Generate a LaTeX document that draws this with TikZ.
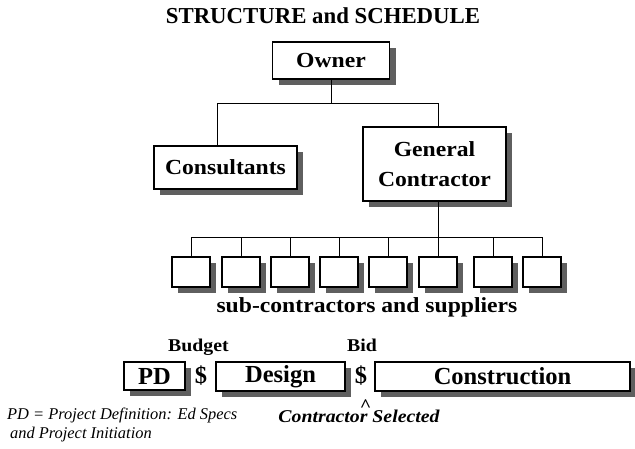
\documentclass[tikz,border=0pt]{standalone}
\usepackage{fontspec}
\setmainfont{Liberation Serif}
\newfontfamily\bfw{Liberation Serif}[FakeStretch=1.1]
\usetikzlibrary{shadows}
\definecolor{shd}{RGB}{95,95,95}
\tikzset{
  box/.style={draw=black, line width=1.1pt, fill=white, inner sep=0pt, align=center,
    drop shadow={shadow xshift=6pt, shadow yshift=-6pt, fill=shd, opacity=1}},
  lbl/.style={font=\bfw\bfseries\fontsize{21.5}{30}\selectfont},
  blbl/.style={font=\bfseries\fontsize{24.5}{28}\selectfont},
  conn/.style={line width=0.8pt},
}
\begin{document}
\begin{tikzpicture}[x=1pt,y=-1pt]
\useasboundingbox (0,0) rectangle (635,448);
\node[font=\bfseries\fontsize{22.8}{27}\selectfont, anchor=base] (title) at (323,23) {STRUCTURE and SCHEDULE};
\node[box,lbl,minimum width=117pt,minimum height=37pt] (owner) at (331,60.5) {Owner};
\node[box,lbl,minimum width=143pt,minimum height=43pt] (cons) at (225.5,167.5) {Consultants};
\node[box,lbl,minimum width=143pt,minimum height=74pt] (gc) at (434.5,164) {General\\Contractor};
\coordinate (barL) at (217,103);
\coordinate (barR) at (438,103);
\draw[conn] (owner.south) -- (owner.south |- barL);
\draw[conn] (cons.north -| barL) -- (barL) -- (barR) -- (gc.north -| barR);
\coordinate (sbL) at (191,237);
\coordinate (sbR) at (542,237);
\coordinate (gcb) at (438,237);
\draw[conn] (gc.south -| gcb) -- (gcb);
\draw[conn] (sbL) -- (sbR);
\foreach \x [count=\i] in {191,241,290,339,388,438,493,542} {
  \node[box, minimum width=38pt, minimum height=30pt] (s\i) at (\x,272) {};
  \draw[conn] (s\i.north) -- (s\i.north |- sbL);
}
\node[lbl, anchor=base] (sublbl) at (367,312) {sub-contractors and suppliers};
\node[font=\bfw\bfseries\fontsize{18}{22}\selectfont, anchor=base] (budget) at (198.5,351) {Budget};
\node[font=\bfw\bfseries\fontsize{18}{22}\selectfont, anchor=base] (bid) at (362,351) {Bid};
\node[box,blbl,minimum width=61pt,minimum height=28pt] (pd) at (154.5,376) {PD};
\node[blbl] (d1) at (201,376) {\$};
\node[box,blbl,minimum width=129pt,minimum height=29pt] (design) at (280.5,376.5) {Design};
\node[blbl] (d2) at (361,376) {\$};
\node[box,blbl,minimum width=255pt,minimum height=29pt] (constr) at (502.5,376.5) {Construction};
\node[font=\bfw\bfseries\itshape\fontsize{18}{22}\selectfont, anchor=base, inner sep=0pt] (sel) at (359,422) {Contracto\rlap{\raisebox{10.5pt}{\upshape\textasciicircum}}r Selected};
\node[font=\itshape\fontsize{16.4}{19}\selectfont, anchor=north west, inner sep=0pt, align=left] (note) at (7,408) {PD = Project Definition: Ed Specs\\\hspace*{3pt}and Project Initiation};
\end{tikzpicture}
\end{document}
